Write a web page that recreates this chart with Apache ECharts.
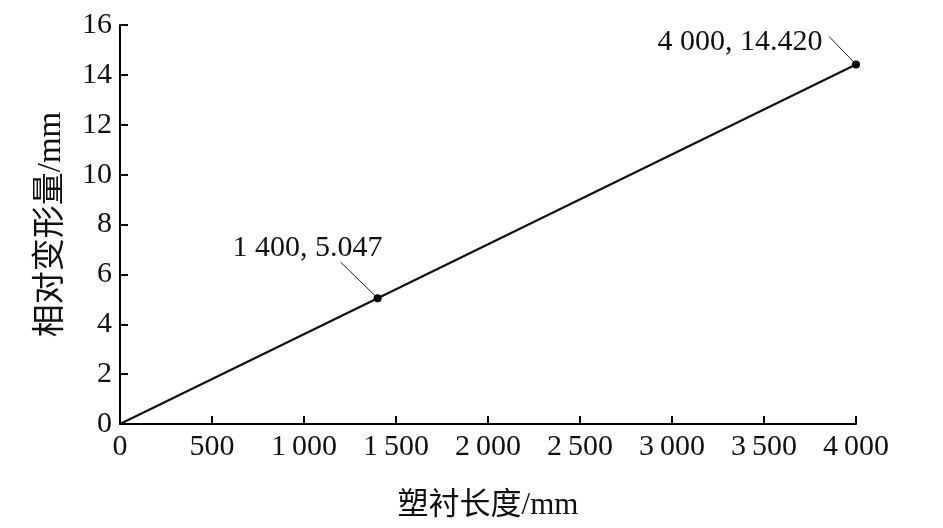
<!DOCTYPE html>
<html>
<head>
<meta charset="utf-8">
<script src="https://cdn.jsdelivr.net/npm/echarts@6/dist/echarts.min.js"></script>
<style>html,body{margin:0;padding:0;background:#fff}#c{width:943px;height:528px}</style>
</head>
<body>
<div id="c"></div>
<script>
var xValues = [0, 1400, 4000];
var yValues = [0, 5.047, 14.420];
var pointLabels = ['', '1 400, 5.047', '4 000, 14.420'];
var xTicks = [0, 500, 1000, 1500, 2000, 2500, 3000, 3500, 4000];
var yTicks = [0, 2, 4, 6, 8, 10, 12, 14, 16];
var xName = '塑衬长度/mm';
var yName = '相对变形量/mm';

var serif = '"Liberation Serif","DejaVu Serif",serif';
var cjk = '"Liberation Serif","Noto Sans CJK SC",serif';

function fmtThousands(v) {
  var s = String(v);
  if (s.length > 3) s = s.slice(0, s.length - 3) + '\u2009' + s.slice(s.length - 3);
  return s;
}

// label offsets (style only)
var labelOffsets = [null, {dx: -70, dy: -26}, {dx: -116, dy: 2}];
// leader line: from label-side offset to point (pixel offsets relative to point)
var leaderOffsets = [null, [-37, -36], [-27, -28]];

var data = xValues.map(function (x, i) {
  var item = {value: [x, yValues[i]]};
  if (i === 0) {
    item.symbolSize = 0;
    item.label = {show: false};
  } else {
    item.label = {show: true, formatter: pointLabels[i], offset: [labelOffsets[i].dx, labelOffsets[i].dy]};
  }
  return item;
});

var chart = echarts.init(document.getElementById('c'));
chart.setOption({
  animation: false,
  backgroundColor: '#fff',
  grid: {left: 120, right: 87, top: 25, bottom: 104},
  xAxis: {
    type: 'value', min: xTicks[0], max: xTicks[xTicks.length - 1], interval: 500,
    name: xName, nameLocation: 'middle', nameGap: 66,
    nameTextStyle: {fontFamily: cjk, fontSize: 31, color: '#111'},
    axisLine: {show: true, lineStyle: {color: '#000', width: 2}},
    axisTick: {show: true, inside: true, length: 8, lineStyle: {color: '#000', width: 2}},
    axisLabel: {fontFamily: serif, fontSize: 30, color: '#111', margin: 8, formatter: fmtThousands},
    splitLine: {show: false}
  },
  yAxis: {
    type: 'value', min: yTicks[0], max: yTicks[yTicks.length - 1], interval: 2,
    name: yName, nameLocation: 'middle', nameGap: 52,
    nameTextStyle: {fontFamily: cjk, fontSize: 33, color: '#111'},
    axisLine: {show: true, lineStyle: {color: '#000', width: 2}},
    axisTick: {show: true, inside: true, length: 8, lineStyle: {color: '#000', width: 2}},
    axisLabel: {fontFamily: serif, fontSize: 30, color: '#111', margin: 8},
    splitLine: {show: false}
  },
  series: [{
    type: 'line',
    data: data,
    symbol: 'circle',
    symbolSize: 8,
    itemStyle: {color: '#000'},
    lineStyle: {color: '#111', width: 2.2},
    label: {position: 'top', fontFamily: serif, fontSize: 30, color: '#111'}
  }]
});

var graphics = [];
for (var i = 1; i < xValues.length; i++) {
  var p = chart.convertToPixel({gridIndex: 0}, [xValues[i], yValues[i]]);
  graphics.push({
    type: 'line', silent: true,
    shape: {x1: p[0] + leaderOffsets[i][0], y1: p[1] + leaderOffsets[i][1], x2: p[0], y2: p[1]},
    style: {stroke: '#222', lineWidth: 1}
  });
}
chart.setOption({graphic: graphics});
</script>
</body>
</html>
